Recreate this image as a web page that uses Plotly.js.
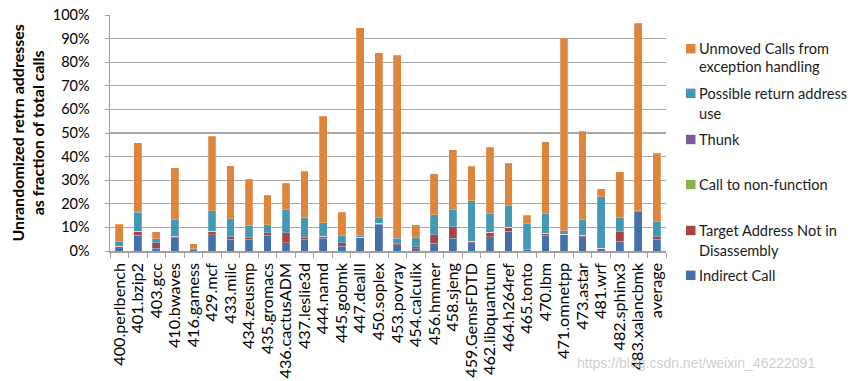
<!DOCTYPE html>
<html>
<head>
<meta charset="utf-8">
<script src="https://cdn.plot.ly/plotly-3.0.1.min.js"></script>
<style>html,body{margin:0;padding:0;background:#fff;}#chart{width:853px;height:381px;}</style>
</head>
<body>
<div id="chart"></div>
<script>
var categories = ["400.perlbench","401.bzip2","403.gcc","410.bwaves","416.gamess","429.mcf","433.milc","434.zeusmp","435.gromacs","436.cactusADM","437.leslie3d","444.namd","445.gobmk","447.dealII","450.soplex","453.povray","454.calculix","456.hmmer","458.sjeng","459.GemsFDTD","462.libquantum","464.h264ref","465.tonto","470.lbm","471.omnetpp","473.astar","481.wrf","482.sphinx3","483.xalancbmk","average"];

var indirectCall = [1.9,6.7,1.1,5.7,0.5,6.9,4.9,4.9,6.7,3.4,5.0,5.4,2.1,5.7,11.3,2.7,1.0,3.3,5.3,3.6,6.0,8.4,0.6,6.7,7.0,6.0,1.0,4.1,16.7,5.0];
var targetNotInDisasm = [0.2,1.6,2.4,0.5,0.0,1.4,1.2,0.7,1.0,4.3,0.7,0.9,1.3,0.2,0.4,0.4,0.8,3.6,5.0,0.5,1.9,1.6,0.0,0.9,0.2,0.7,0.2,4.0,0.0,1.1];
var callToNonFunction = [0,0,0,0,0,0,0,0,0,0,0,0,0,0,0,0,0,0,0,0,0,0,0,0,0,0,0,0,0,0];
var thunk = [0,0,0,0,0,0,0,0,0,0,0,0,0,0,0,0,0.1,0,0,0,0,0,0,0,0,0,0,0,0,0];
var possibleReturn = [1.8,8.1,1.7,7.2,0.4,8.7,7.5,5.3,3.4,10.0,8.6,5.7,3.2,0.7,2.3,2.2,3.7,8.5,7.4,17.3,8.1,9.4,11.0,8.3,1.4,6.7,21.7,6.0,0.4,6.6];
var unmovedException = [7.5,29.4,3.0,21.9,2.1,31.6,22.6,19.6,12.6,11.0,19.6,45.2,9.8,87.9,70.0,77.6,5.5,17.4,25.1,14.5,27.9,17.7,3.5,30.3,81.8,37.3,3.4,19.4,79.5,28.8];

var yTickVals = [0,10,20,30,40,50,60,70,80,90,100];
var yTickText = ["0%","10%","20%","30%","40%","50%","60%","70%","80%","90%","100%"];
var yTitle = "Unrandomized retrn addresses<br>as fraction of total calls";

var seriesNames = ["Indirect Call","Target Address Not in<br>Disassembly","Call to non-function","Thunk","Possible return address<br>use","Unmoved Calls from<br>exception handling"];
var seriesData = [indirectCall, targetNotInDisasm, callToNonFunction, thunk, possibleReturn, unmovedException];
var seriesColors = ["#4571AA","#AA4442","#8DB052","#7A5C9E","#4399B3","#DE853B"];

var traces = seriesData.map(function(d,i){
  return {type:"bar", x:categories, y:d, name:seriesNames[i],
    marker:{color:seriesColors[i], line:{color:"rgba(255,255,255,0.35)", width:0.6}},
    showlegend:false, hoverinfo:"x+y+name"};
});

// plot area in pixels
var L=110, R=666, T=15, B=251, W=853, H=381;
function px(x){return (x-L)/(R-L);}
function py(y){return (B-y)/(B-T);}

// manual legend (positions are layout, not data)
var legendRows = [
  {series:5, sq:48.7, lines:[48.3,66.7]},
  {series:4, sq:93.3, lines:[93.3,113.3]},
  {series:3, sq:139.5, lines:[139.5]},
  {series:2, sq:184.5, lines:[184.5]},
  {series:1, sq:230.5, lines:[230.5,250]},
  {series:0, sq:275.3, lines:[275.3]}
];
var shapes=[], annotations=[];
legendRows.forEach(function(r){
  shapes.push({type:"rect", xref:"paper", yref:"paper", x0:px(686), x1:px(695.5), y0:py(r.sq+4.7), y1:py(r.sq-4.7),
    fillcolor:seriesColors[r.series], line:{width:0}});
  var parts = seriesNames[r.series].split("<br>");
  parts.forEach(function(t,k){
    annotations.push({xref:"paper", yref:"paper", x:px(697), y:py(r.lines[k]), xanchor:"left", yanchor:"middle",
      text:t, showarrow:false, font:{family:"Lato", size:14.6, color:"#1a1a1a"}});
  });
});
annotations.push({xref:"paper", yref:"paper", x:px(27.5), y:0.5, xanchor:"center", yanchor:"middle", textangle:-90,
  text:"<b>"+yTitle+"</b>", showarrow:false, font:{family:"Lato", size:16, color:"#000"}});
annotations.push({xref:"paper", yref:"paper", x:px(575), y:py(363), xanchor:"left", yanchor:"middle",
  text:"https://blog.csdn.net/weixin_46222091", showarrow:false, font:{family:"Liberation Sans", size:14, color:"rgba(190,190,190,0.75)"}});

var layout = {
  width:W, height:H,
  margin:{l:L, r:W-R, t:T, b:H-B, pad:0},
  paper_bgcolor:"#fff", plot_bgcolor:"#fff",
  barmode:"stack", bargap:0.58,
  font:{family:"Lato", color:"#000"},
  xaxis:{type:"category", tickmode:"linear", tick0:0, dtick:1, tickangle:-90, ticks:"outside", tickson:"boundaries", ticklen:5, tickcolor:"#a0a0a0", tickwidth:1,
    showline:true, linecolor:"#a0a0a0", linewidth:1.5, showgrid:false, tickfont:{family:"Lato", size:16.2, color:"#000"}, ticklabelstandoff:4, automargin:false},
  yaxis:{range:[0,100], tickvals:yTickVals, ticktext:yTickText, ticks:"outside", ticklen:4, tickcolor:"#a0a0a0", tickwidth:1,
    showline:true, linecolor:"#a0a0a0", linewidth:1.5, showgrid:true, gridcolor:"#a6a6a6", gridwidth:1.3, zeroline:false,
    tickfont:{family:"Lato", size:14.5, color:"#000"}, ticklabelstandoff:12, automargin:false},
  shapes:shapes, annotations:annotations
};
Plotly.newPlot("chart", traces, layout, {staticPlot:true, displayModeBar:false});
</script>
</body>
</html>
